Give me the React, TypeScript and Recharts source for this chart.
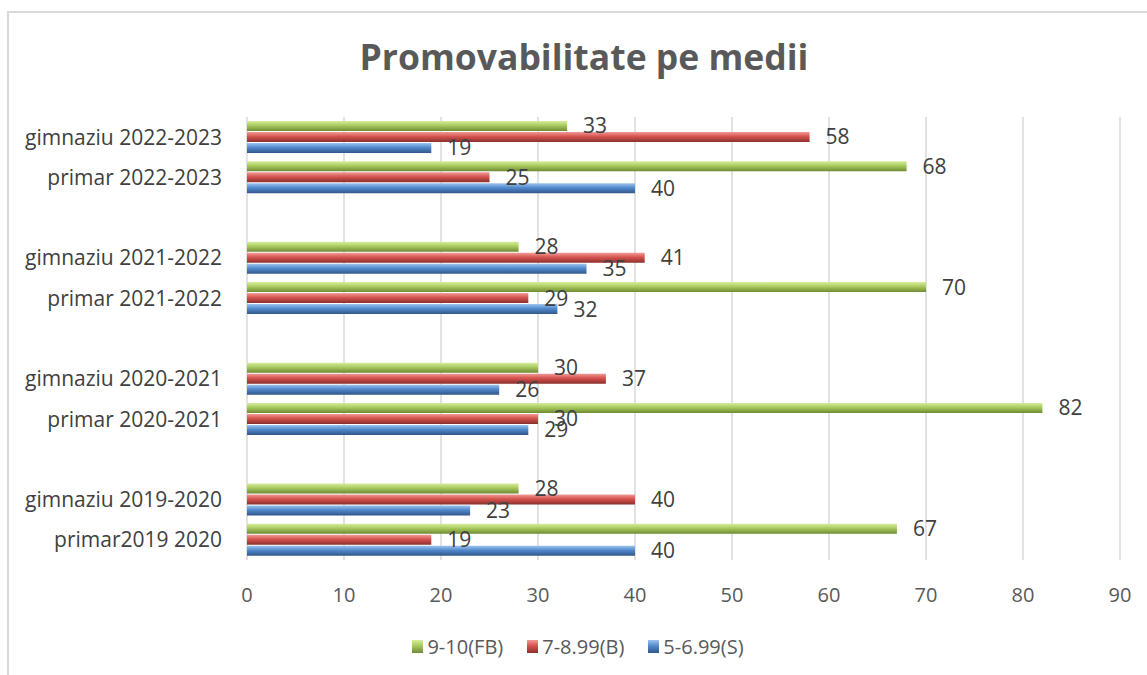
import React from "react";
import { BarChart, Bar, XAxis, YAxis, CartesianGrid, LabelList, Legend } from "recharts";

const categories = [
  "gimnaziu 2022-2023",
  "primar 2022-2023",
  " ",
  "gimnaziu 2021-2022",
  "primar 2021-2022",
  "  ",
  "gimnaziu 2020-2021",
  "primar 2020-2021",
  "   ",
  "gimnaziu 2019-2020",
  "primar2019 2020",
];
const fb: (number | null)[] = [33, 68, null, 28, 70, null, 30, 82, null, 28, 67];
const b: (number | null)[] = [58, 25, null, 41, 29, null, 37, 30, null, 40, 19];
const s: (number | null)[] = [19, 40, null, 35, 32, null, 26, 29, null, 23, 40];
const xTicks = [0, 10, 20, 30, 40, 50, 60, 70, 80, 90];

const seriesNames = ["9-10(FB)", "7-8.99(B)", "5-6.99(S)"];

const data = categories.map((c, i) => ({ name: c, fb: fb[i], b: b[i], s: s[i] }));

const FONT = "'Open Sans', 'DejaVu Sans', sans-serif";

const LegendContent = () => (
  <div style={{ display: "flex", justifyContent: "center", fontFamily: FONT, fontSize: 20, color: "#595959" }}>
    {seriesNames.map((n, i) => (
      <div key={n} style={{ display: "flex", alignItems: "center", marginRight: 24 }}>
        <svg width={11} height={13} style={{ marginRight: 4 }}>
          <rect x={0} y={0} width={11} height={13} fill={`url(#lg${i})`} />
        </svg>
        <span>{n}</span>
      </div>
    ))}
  </div>
);

export default function App() {
  return (
    <div style={{ position: "absolute", left: 0, top: 0, width: 1147, height: 675, background: "#fff", overflow: "hidden" }}>
      <div
        style={{
          position: "absolute",
          left: 7,
          top: 11,
          width: 1200,
          height: 700,
          borderLeft: "2px solid #d9d9d9",
          borderTop: "2px solid #d9d9d9",
        }}
      />
      <div
        style={{
          position: "absolute",
          left: 0,
          top: 32,
          width: 1168,
          textAlign: "center",
          fontFamily: FONT,
          fontWeight: 700,
          fontSize: 35.5,
          color: "#595959",
        }}
      >
        Promovabilitate pe medii
      </div>
      <div style={{ position: "absolute", left: 0, top: 0 }}>
        <BarChart
          width={1147}
          height={675}
          data={data}
          layout="vertical"
          margin={{ top: 117, right: 27, bottom: 85, left: 10 }}
          barSize={10}
          barGap={1}
        >
          <defs>
            <linearGradient id="lg0" x1="0" y1="0" x2="0" y2="1">
              <stop offset="0%" stopColor="#d7ee9c" />
              <stop offset="45%" stopColor="#a9ca5f" />
              <stop offset="100%" stopColor="#6e8a34" />
            </linearGradient>
            <linearGradient id="lg1" x1="0" y1="0" x2="0" y2="1">
              <stop offset="0%" stopColor="#f29a96" />
              <stop offset="45%" stopColor="#d5534f" />
              <stop offset="100%" stopColor="#8a302d" />
            </linearGradient>
            <linearGradient id="lg2" x1="0" y1="0" x2="0" y2="1">
              <stop offset="0%" stopColor="#9cc4f0" />
              <stop offset="45%" stopColor="#5289cc" />
              <stop offset="100%" stopColor="#31568a" />
            </linearGradient>
          </defs>
          <CartesianGrid horizontal={false} stroke="#d9d9d9" strokeWidth={1.5} />
          <XAxis
            type="number"
            domain={[0, 90]}
            ticks={xTicks}
            axisLine={false}
            tickLine={false}
            height={30}
            tick={{ fill: "#595959", fontSize: 20, fontFamily: FONT }}
            dy={20}
            interval={0}
          />
          <YAxis
            type="category"
            dataKey="name"
            width={237}
            axisLine={false}
            tickLine={false}
            interval={0}
            tick={{ fill: "#404040", fontSize: 21, fontFamily: FONT }}
            dx={-17}
          />
          <Legend
            layout="horizontal"
            verticalAlign="middle"
            align="center"
            wrapperStyle={{ left: 0, top: 633, width: 1180 }}
            content={<LegendContent />}
          />
          <Bar dataKey="fb" name={seriesNames[0]} fill="url(#lg0)" isAnimationActive={false}>
            <LabelList dataKey="fb" position="right" offset={16} fill="#404040" fontSize={21} fontFamily={FONT} />
          </Bar>
          <Bar dataKey="b" name={seriesNames[1]} fill="url(#lg1)" isAnimationActive={false}>
            <LabelList dataKey="b" position="right" offset={16} fill="#404040" fontSize={21} fontFamily={FONT} />
          </Bar>
          <Bar dataKey="s" name={seriesNames[2]} fill="url(#lg2)" isAnimationActive={false}>
            <LabelList dataKey="s" position="right" offset={16} fill="#404040" fontSize={21} fontFamily={FONT} />
          </Bar>
        </BarChart>
      </div>
    </div>
  );
}
